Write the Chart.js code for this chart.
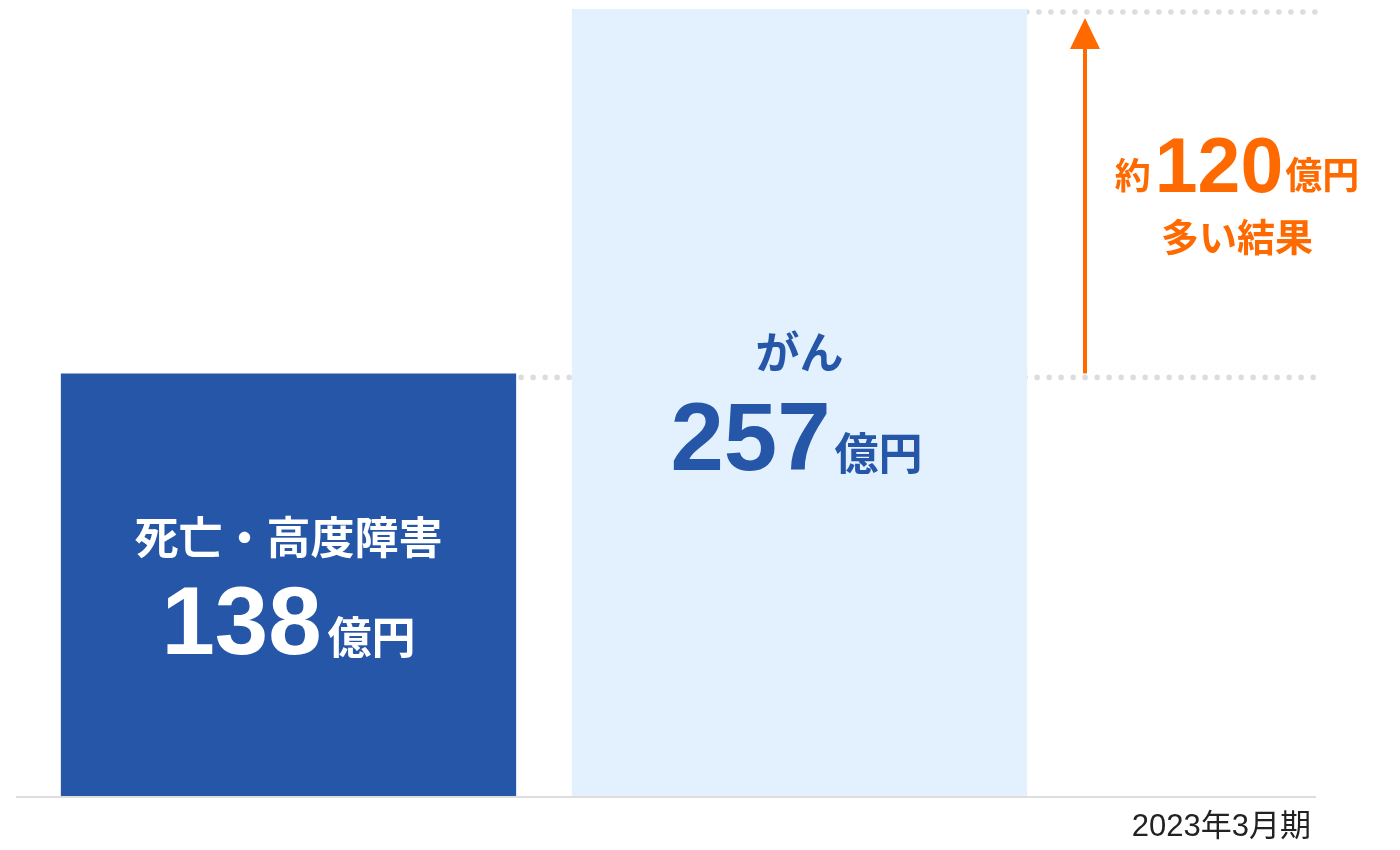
<!DOCTYPE html>
<html lang="ja">
<head>
<meta charset="utf-8">
<title>保険金支払額</title>
<script src="https://cdn.jsdelivr.net/npm/chart.js@4"></script>
<style>
  html, body { margin: 0; padding: 0; background: #fff; }
  canvas { display: block; }
</style>
</head>
<body>
<canvas id="chart" width="1400" height="850"></canvas>
<script>
// data
const categories = ['死亡・高度障害', 'がん'];
const values = [138, 257];
const unitLabel = '億円';
const periodLabel = '2023年3月期';
const diffPrefix = '約';
const diffValue = '120';
const diffSuffix = '多い結果';

const barColors = ['#2556A8', '#E3F0FD'];
const labelColors = ['#FFFFFF', '#2556A8'];
const accent = '#FF6A00';
const gridGray = '#DDDDDD';

const cjk = '"Noto Sans CJK JP", "Liberation Sans", sans-serif';
const latin = '"Liberation Sans", Arial, sans-serif';

const dottedLine = (ctx, x1, x2, y) => {
    ctx.save();
    ctx.fillStyle = gridGray;
    for (let x = x1; x <= x2; x += 12) {
        ctx.beginPath();
        ctx.arc(x, y, 2.8, 0, Math.PI * 2);
        ctx.fill();
    }
    ctx.restore();
};

// big number + small unit, centred on cx
const numberWithUnit = (ctx, num, numFont, unitFont, cx, baseline, color, gap) => {
    ctx.save();
    ctx.fillStyle = color;
    ctx.textBaseline = 'alphabetic';
    ctx.textAlign = 'left';
    ctx.font = numFont;
    const wNum = ctx.measureText(num).width;
    ctx.font = unitFont;
    const wUnit = ctx.measureText(unitLabel).width;
    const start = cx - (wNum + gap + wUnit) / 2;
    ctx.font = numFont;
    ctx.fillText(num, start, baseline);
    ctx.font = unitFont;
    ctx.fillText(unitLabel, start + wNum + gap, baseline);
    ctx.restore();
};

const decorations = {
    id: 'decorations',
    beforeDatasetsDraw(chart) {
        const { ctx, chartArea, scales } = chart;
        const yLow = scales.y.getPixelForValue(values[0]);
        const yHigh = scales.y.getPixelForValue(values[1]);
        const bars = chart.getDatasetMeta(0).data;
        dottedLine(ctx, bars[0].x + bars[0].width / 2 + 5, 1316, yLow + 4);
        dottedLine(ctx, bars[1].x - bars[1].width / 2 + 83, 1316, yHigh + 3);
    },
    afterDatasetsDraw(chart) {
        const { ctx, chartArea, scales } = chart;
        const y = scales.y;
        const bars = chart.getDatasetMeta(0).data;

        // baseline
        ctx.save();
        ctx.strokeStyle = gridGray;
        ctx.lineWidth = 2;
        ctx.beginPath();
        ctx.moveTo(16, chartArea.bottom + 1);
        ctx.lineTo(1316, chartArea.bottom + 1);
        ctx.stroke();
        ctx.restore();

        // bar labels
        ctx.save();
        ctx.textAlign = 'center';
        ctx.textBaseline = 'middle';
        ctx.font = 'bold 44px ' + cjk;
        ctx.fillStyle = labelColors[0];
        ctx.fillText(categories[0], bars[0].x, 537);
        ctx.fillStyle = labelColors[1];
        ctx.fillText(categories[1], bars[1].x, 352);
        ctx.restore();

        numberWithUnit(ctx, String(values[0]), 'bold 96px ' + latin, 'bold 44px ' + cjk,
            bars[0].x, 654, labelColors[0], 6);
        numberWithUnit(ctx, String(values[1]), 'bold 96px ' + latin, 'bold 44px ' + cjk,
            bars[1].x - 3, 470, labelColors[1], 4);

        // arrow
        const ax = 1085;
        const yTop = y.getPixelForValue(values[1]) + 9;
        const yBot = y.getPixelForValue(values[0]);
        ctx.save();
        ctx.fillStyle = accent;
        ctx.fillRect(ax - 2, yTop + 28, 4, yBot - yTop - 28);
        ctx.beginPath();
        ctx.moveTo(ax, yTop);
        ctx.lineTo(ax + 15, yTop + 31);
        ctx.lineTo(ax - 15, yTop + 31);
        ctx.closePath();
        ctx.fill();

        // difference note
        const cx = 1237;
        ctx.textBaseline = 'alphabetic';
        ctx.textAlign = 'left';
        ctx.font = 'bold 36px ' + cjk;
        const w1 = ctx.measureText(diffPrefix).width;
        ctx.font = 'bold 77px ' + latin;
        const w2 = ctx.measureText(diffValue).width;
        ctx.font = 'bold 37px ' + cjk;
        const w3 = ctx.measureText(unitLabel).width;
        let sx = cx - (w1 + w2 + w3 + 6) / 2;
        ctx.font = 'bold 36px ' + cjk;
        ctx.fillText(diffPrefix, sx, 189);
        sx += w1 + 4;
        ctx.font = 'bold 77px ' + latin;
        ctx.fillText(diffValue, sx, 192);
        sx += w2 + 2;
        ctx.font = 'bold 37px ' + cjk;
        ctx.fillText(unitLabel, sx, 189);

        ctx.textAlign = 'center';
        ctx.textBaseline = 'middle';
        ctx.font = 'bold 38px ' + cjk;
        ctx.fillText(diffSuffix, cx, 237);
        ctx.restore();

        // period
        ctx.save();
        ctx.fillStyle = '#222222';
        ctx.textAlign = 'right';
        ctx.textBaseline = 'alphabetic';
        ctx.font = '31px ' + latin.replace('"Liberation Sans"', '"Liberation Sans", "Noto Sans CJK JP"');
        ctx.fillText(periodLabel, 1311, 836);
        ctx.restore();
    }
};

new Chart(document.getElementById('chart'), {
    type: 'bar',
    data: {
        labels: categories,
        datasets: [
            {
                data: values,
                backgroundColor: barColors,
                borderWidth: 0,
                barPercentage: 0.891,
                categoryPercentage: 1,
            },
        ],
    },
    options: {
        responsive: false,
        animation: false,
        layout: {
            padding: { left: 33, right: 345, top: 9, bottom: 54 }
        },
        plugins: {
            legend: { display: false },
            tooltip: { enabled: false }
        },
        scales: {
            x: { display: false },
            y: { display: false, min: 0, max: 257 }
        }
    },
    plugins: [decorations]
});
</script>
</body>
</html>
